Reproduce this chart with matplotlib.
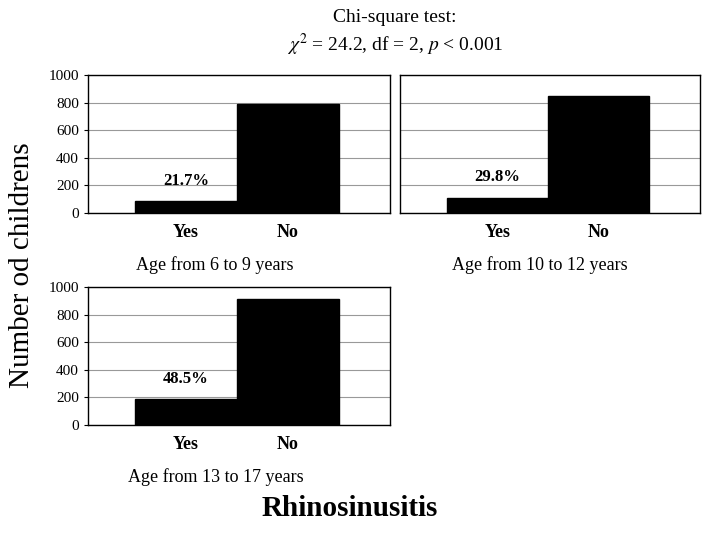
import matplotlib
matplotlib.use("Agg")
import matplotlib.pyplot as plt

plt.rcParams["font.family"] = ["Liberation Serif", "DejaVu Serif"]
plt.rcParams["mathtext.fontset"] = "stix"

CATEGORIES = ["Yes", "No"]
PANEL_TITLES = ["Age from 6 to 9 years", "Age from 10 to 12 years", "Age from 13 to 17 years"]
YES_COUNTS = [85, 110, 185]
NO_COUNTS = [790, 850, 915]
PERCENT_LABELS = ["21.7%", "29.8%", "48.5%"]
Y_TICKS = [0, 200, 400, 600, 800, 1000]

W, H = 708, 533
fig = plt.figure(figsize=(W / 100, H / 100), dpi=100)


def px_axes(x0, y0, x1, y1):
    return fig.add_axes([x0 / W, 1 - y1 / H, (x1 - x0) / W, (y1 - y0) / H])


boxes = [(88, 75, 390, 213), (400, 75, 700, 213), (88, 287, 390, 425)]
title_x = [215, 540, 216]
for i, (x0, y0, x1, y1) in enumerate(boxes):
    ax = px_axes(x0, y0, x1, y1)
    ax.bar([0, 1], [YES_COUNTS[i], NO_COUNTS[i]], width=1.0, color="black",
           edgecolor="black", zorder=3)
    ax.set_xlim(-0.96, 2.0)
    ax.set_ylim(0, 1000)
    ax.set_yticks(Y_TICKS)
    ax.grid(True, axis="y", color="#999999", linewidth=0.8, zorder=0)
    ax.set_xticks([0, 1])
    ax.set_xticklabels(CATEGORIES, fontsize=13, fontweight="bold")
    ax.tick_params(axis="x", length=0, pad=8)
    ax.tick_params(axis="y", labelsize=11, length=3)
    if i == 1:
        ax.set_yticklabels([])
        ax.tick_params(axis="y", length=0)
    for s in ax.spines.values():
        s.set_color("black")
        s.set_linewidth(1.0)
    ax.text(0, YES_COUNTS[i] + 90, PERCENT_LABELS[i], ha="center", va="bottom",
            fontsize=12, fontweight="bold")
    fig.text(title_x[i] / W, 1 - (y1 + 52) / H, PANEL_TITLES[i],
             ha="center", va="center", fontsize=13)

fig.text(395 / W, 1 - 18 / H, "Chi-square test:", ha="center", va="center", fontsize=14)
fig.text(395 / W, 1 - 45 / H, r"$\chi^2$ = 24.2, df = 2, $p$ < 0.001",
         ha="center", va="center", fontsize=14)
fig.text(22 / W, 1 - 265 / H, "Number od childrens", rotation=90,
         ha="center", va="center", fontsize=21)
fig.text(350 / W, 1 - 508 / H, "Rhinosinusitis", ha="center", va="center",
         fontsize=21, fontweight="bold")

fig.savefig("out.png", dpi=100, facecolor="white")
